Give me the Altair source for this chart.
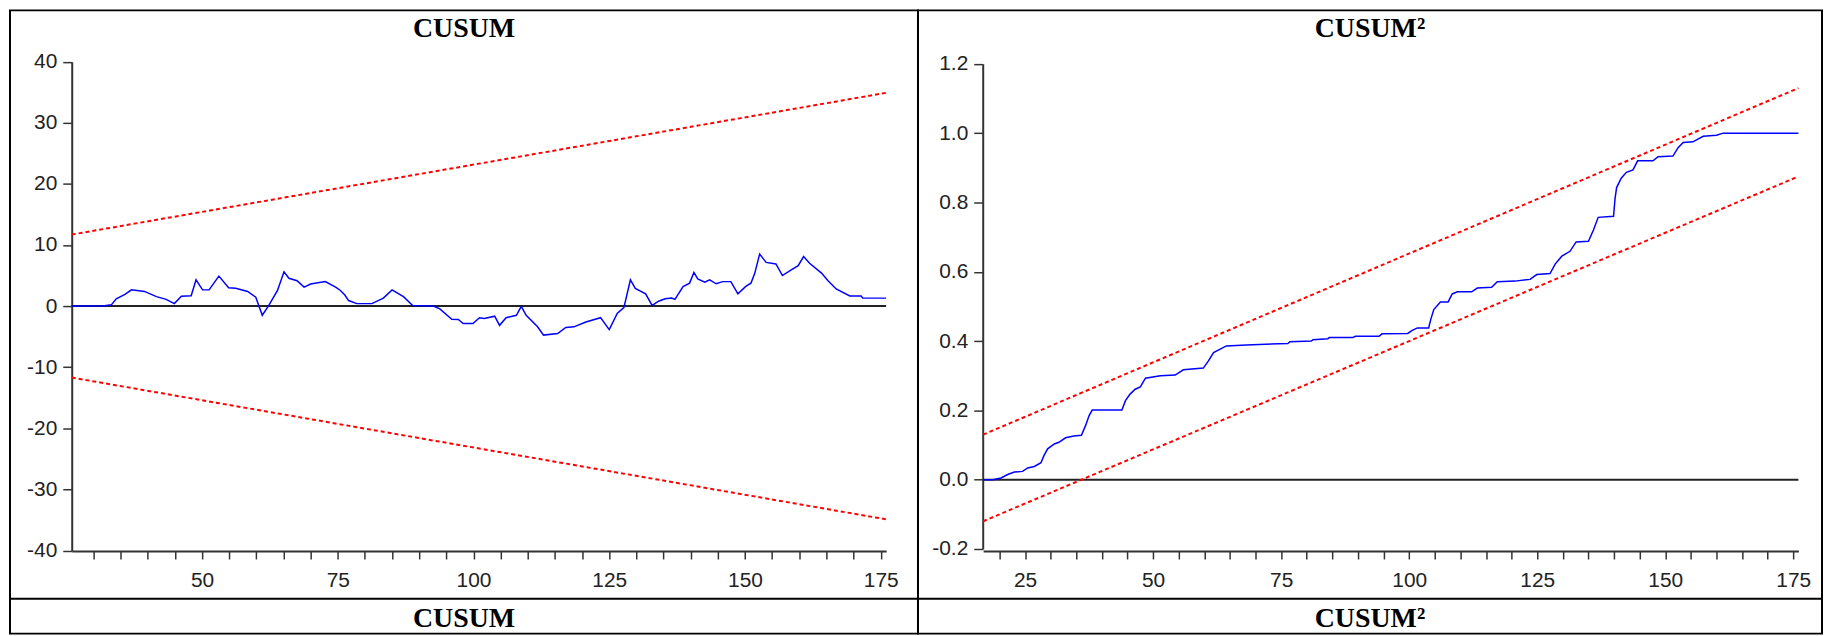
import altair as alt
import pandas as pd

# ---------------- data ----------------
panel_titles = ["CUSUM", "CUSUM\u00b2"]

# CUSUM statistic
cusum_t = [26, 31.7, 33.3, 34.2, 35.8, 37.0, 39.4, 41.6, 43.4, 44.9, 46.2, 48.0, 48.9, 50.1, 51.3,
           53.1, 54.9, 56.2, 58.4, 59.9, 61.1, 62.3, 63.9, 65.1, 66.0, 67.5, 68.8, 70.0, 72.7, 74.6,
           75.5, 76.3, 77.0, 78.5, 81.3, 83.4, 85.0, 87.1, 88.8, 92.6, 93.8, 96.0, 97.2, 98.1, 99.9,
           101.1, 102.0, 103.9, 104.8, 106.0, 107.9, 108.8, 109.7, 111.8, 112.9, 115.5, 117.0, 118.5,
           120.7, 123.4, 125.0, 126.5, 127.7, 128.9, 129.8, 131.7, 132.9, 134.1, 135.3, 136.5, 137.1,
           138.6, 139.8, 140.6, 141.3, 142.6, 143.5, 144.7, 145.9, 147.4, 148.7, 150.2, 151.1, 151.8,
           152.7, 153.9, 155.7, 156.9, 158.6, 159.8, 160.8, 161.9, 164.1, 165.3, 166.8, 169.3, 171.4,
           171.7, 176.0]
cusum_v = [0, 0, 0.2, 1.2, 1.9, 2.65, 2.4, 1.55, 1.1, 0.4, 1.6, 1.7, 4.3, 2.65, 2.65,
           4.9, 3.0, 2.9, 2.4, 1.45, -1.5, 0.1, 2.55, 5.6, 4.55, 4.15, 3.1, 3.6, 4.0, 3.1,
           2.55, 1.8, 0.9, 0.4, 0.4, 1.3, 2.65, 1.55, 0.1, 0, -0.45, -2.15, -2.2, -2.85, -2.85,
           -1.9, -2.05, -1.65, -3.15, -1.9, -1.5, -0.05, -1.5, -3.4, -4.75, -4.5, -3.5, -3.4,
           -2.6, -1.9, -3.85, -1.15, -0.25, 4.3, 2.9, 2.0, 0.1, 0.8, 1.2, 1.3, 1.1,
           3.2, 3.75, 5.5, 4.45, 3.9, 4.3, 3.65, 4.0, 4.0, 2.0, 3.25, 3.75, 5.35,
           8.5, 7.15, 6.9, 5.0, 5.95, 6.6, 8.1, 7.0, 5.4, 4.15, 2.8, 1.65, 1.65,
           1.3, 1.3]
cusum_bound_t = [26, 176]
cusum_upper = [11.7, 34.9]
cusum_lower = [-11.7, -34.9]

# CUSUM of squares statistic
cusq_t = [16.8, 18.7, 20.3, 21.6, 22.9, 24.5, 25.5, 26.8, 28.1, 28.7, 29.4, 30.7, 31.6, 32.9, 34.5,
          36.0, 36.8, 37.5, 38.1, 43.9, 44.6, 45.5, 46.5, 47.5, 48.5, 51.4, 54.3, 55.9, 59.8, 60.8,
          61.8, 64.3, 68.2, 76.3, 76.7, 80.9, 81.2, 84.1, 84.4, 89.0, 89.5, 94.1, 94.7, 99.7, 100.6,
          101.6, 103.8, 104.2, 104.8, 106.1, 107.6, 108.4, 109.4, 112.2, 113.3, 116.1, 117.2, 120.7,
          123.6, 124.9, 127.5, 128.5, 129.8, 131.4, 132.6, 135.0, 136.0, 136.9, 139.9, 140.2, 140.5,
          141.4, 142.4, 143.7, 144.6, 147.6, 148.6, 151.5, 152.5, 153.5, 155.4, 157.4, 160.0, 161.3,
          176.0]
cusq_v = [0, 0, 0.005, 0.015, 0.022, 0.024, 0.034, 0.038, 0.049, 0.07, 0.089, 0.103, 0.108, 0.121, 0.126,
          0.128, 0.156, 0.185, 0.201, 0.201, 0.228, 0.247, 0.261, 0.268, 0.293, 0.3, 0.302, 0.317, 0.322, 0.343,
          0.367, 0.386, 0.389, 0.393, 0.398, 0.4, 0.404, 0.407, 0.41, 0.41, 0.414, 0.414, 0.421, 0.422, 0.431,
          0.438, 0.438, 0.462, 0.491, 0.513, 0.513, 0.536, 0.542, 0.542, 0.553, 0.555, 0.571, 0.573,
          0.578, 0.592, 0.595, 0.622, 0.645, 0.659, 0.686, 0.688, 0.721, 0.757, 0.76, 0.812, 0.843,
          0.87, 0.887, 0.894, 0.92, 0.92, 0.932, 0.934, 0.958, 0.973, 0.975, 0.991, 0.994, 1.0,
          1.0]
cusq_bound_t = [16.8, 176]
cusq_upper = [0.13, 1.13]
cusq_lower = [-0.12, 0.875]

left_x_ticks = list(range(30, 180, 5))
right_x_ticks = list(range(20, 180, 5))
left_y_ticks = [-40, -30, -20, -10, 0, 10, 20, 30, 40]
right_y_ticks = [-0.2, 0.0, 0.2, 0.4, 0.6, 0.8, 1.0, 1.2]

# ---------------- layout (pixels, inside each table cell) ----------------
CELL_H = 626          # whole table column: plot row + caption row
ROW_SPLIT = 591       # separator between the plot row and the caption row
X_AXIS_Y = 543
LEFT_W = 912
RIGHT_W = 908
TITLE_FONT = "Liberation Serif"
MINUS = "\u2212"


def column(title, t, v, bt, up, lo, xdom, xrng, ydom, yrng, xticks, yticks, yfmt, yoff, w):
    xs = alt.Scale(domain=xdom, range=xrng, nice=False, zero=False)
    ys = alt.Scale(domain=ydom, range=yrng, nice=False, zero=False)
    xaxis = alt.Axis(values=xticks, format="d",
                     labelExpr="datum.value % 25 == 0 ? datum.label : ''",
                     offset=X_AXIS_Y - CELL_H, tickSize=8, labelPadding=11, grid=False, title=None,
                     labelOverlap=False, labelFlush=False, labelBound=False)
    yaxis = alt.Axis(values=yticks, format=yfmt,
                     labelExpr="replace(datum.label, '" + MINUS + "', '-')",
                     offset=yoff, tickSize=9, labelPadding=6, grid=False, title=None,
                     labelOverlap=False, labelFlush=False, labelBound=False)

    zero_df = pd.DataFrame({"x": [xdom[0]], "x2": [xdom[1]], "y": [0]})
    zero = alt.Chart(zero_df).mark_rule(color="#222222", strokeWidth=2).encode(
        x=alt.X("x:Q", scale=xs, axis=xaxis),
        x2="x2:Q",
        y=alt.Y("y:Q", scale=ys, axis=yaxis),
    )

    bdf = pd.DataFrame({"x": bt + bt, "y": up + lo, "s": ["u", "u", "l", "l"]})
    bounds = alt.Chart(bdf).mark_line(color="#ff0000", strokeWidth=2, strokeDash=[4, 3]).encode(
        x=alt.X("x:Q", scale=xs, axis=xaxis),
        y=alt.Y("y:Q", scale=ys, axis=yaxis),
        detail="s:N",
    )

    sdf = pd.DataFrame({"x": t, "y": v})
    stat = alt.Chart(sdf).mark_line(color="#0000ff", strokeWidth=1.5).encode(
        x=alt.X("x:Q", scale=xs, axis=xaxis),
        y=alt.Y("y:Q", scale=ys, axis=yaxis),
    )

    tdf = pd.DataFrame({"t": [title]})
    text_style = dict(font=TITLE_FONT, fontWeight="bold", fontSize=28,
                      align="center", baseline="alphabetic", color="black")
    ttl = alt.Chart(tdf).mark_text(**text_style).encode(
        text="t:N", x=alt.value(w / 2), y=alt.value(27))
    cap = alt.Chart(tdf).mark_text(**text_style).encode(
        text="t:N", x=alt.value(w / 2), y=alt.value(ROW_SPLIT + 28))

    # table row separator (frame decoration)
    sep = alt.Chart(tdf).mark_rule(color="black", strokeWidth=2).encode(
        x=alt.value(0), x2=alt.value(w), y=alt.value(ROW_SPLIT))

    return alt.layer(zero, bounds, stat, ttl, sep, cap).properties(width=w, height=CELL_H)


left = column(panel_titles[0], cusum_t, cusum_v, cusum_bound_t, cusum_upper, cusum_lower,
              [26, 176], [62, 880], [-40, 40], [542.5, 51.5],
              left_x_ticks, left_y_ticks, "d", -62, LEFT_W)
right = column(panel_titles[1], cusq_t, cusq_v, cusq_bound_t, cusq_upper, cusq_lower,
               [16.8, 176], [65.4, 884.3], [-0.2, 1.2], [541, 53.7],
               right_x_ticks, right_y_ticks, ".1f", -65, RIGHT_W)

chart = alt.hconcat(left, right, spacing=0, bounds="flush").properties(
    padding=0
).configure_view(
    stroke="black", strokeWidth=2
).configure_axis(
    domainColor="#333333", domainWidth=2, tickColor="#333333", tickWidth=1.5,
    labelFont="Liberation Sans", labelFontSize=21, labelColor="#222222"
)

chart.save("out.html", embed_options={"renderer": "svg", "actions": False})
